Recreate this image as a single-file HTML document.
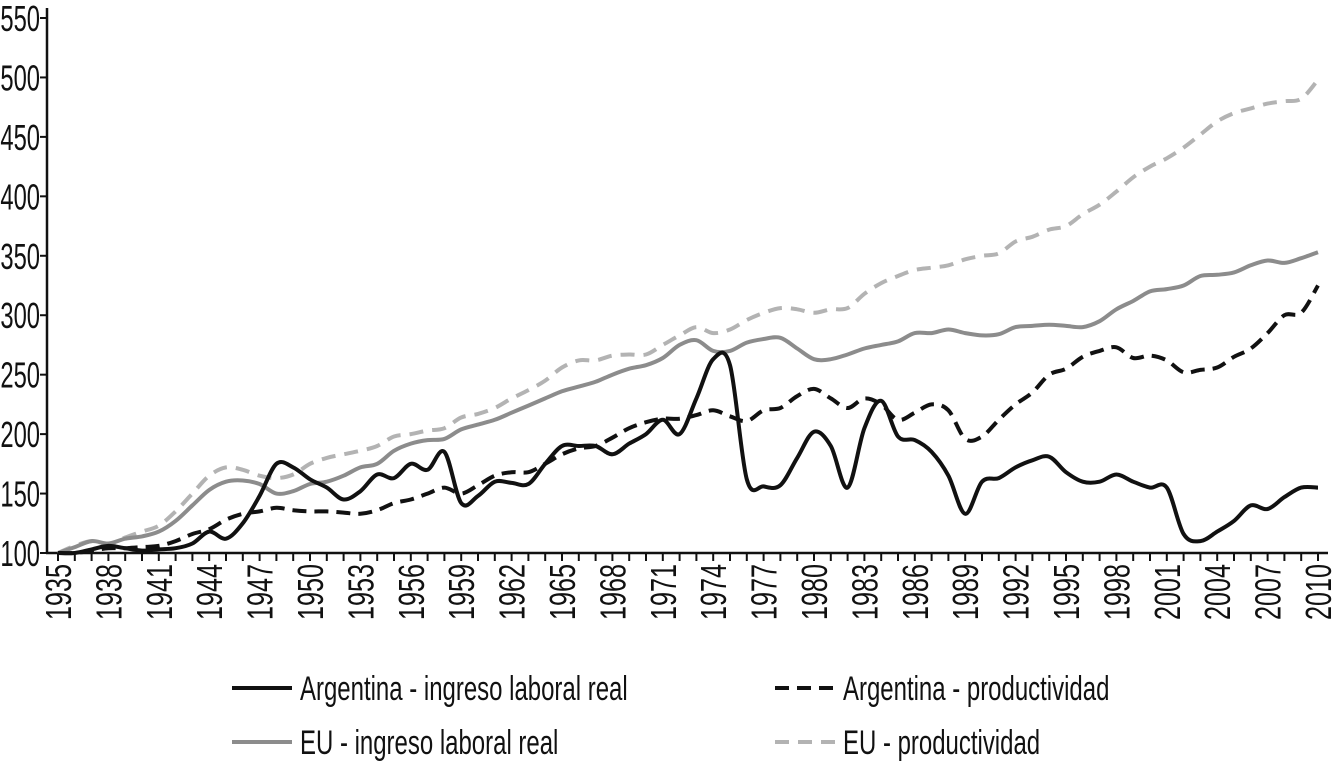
<!DOCTYPE html>
<html><head><meta charset="utf-8"><style>
html,body{margin:0;padding:0;background:#fff;}
svg{display:block;}
text{font-family:"Liberation Sans Narrow","Liberation Sans",sans-serif;fill:#111;}
</style></head><body>
<svg id="chart" width="1336" height="764" viewBox="0 0 1336 764" xmlns="http://www.w3.org/2000/svg">
<g id="axes"></g>
<g id="series"></g>
<g id="legend"></g>
</svg>
<script>
const years = [];
for (let y = 1935; y <= 2010; y++) years.push(y);
const yTicks = [100,150,200,250,300,350,400,450,500,550];
const xLabelYears = [1935,1938,1941,1944,1947,1950,1953,1956,1959,1962,1965,1968,1971,1974,1977,1980,1983,1986,1989,1992,1995,1998,2001,2004,2007,2010];
const argIngreso = [100,100,103,106,104,102,103,104,108,118,112,125,148,175,172,162,155,145,152,166,163,175,170,185,142,148,160,159,158,175,190,190,190,183,192,200,212,200,230,263,258,162,156,157,180,202,190,155,205,228,198,195,185,165,133,160,163,172,178,181,168,160,160,166,160,155,155,116,110,118,127,140,137,147,155,155];
const argProd = [100,100,102,104,104,105,106,110,116,120,128,133,135,138,136,135,135,134,133,136,142,145,150,155,150,157,165,168,168,175,183,188,190,197,205,210,213,213,216,220,215,211,220,222,232,238,230,222,230,225,212,218,225,220,196,198,212,225,235,250,255,265,270,273,264,266,262,252,254,256,265,272,285,300,302,325];
const euIngreso = [100,105,110,108,112,114,118,127,140,153,160,161,158,150,152,158,160,165,172,175,186,192,195,196,204,208,212,218,224,230,236,240,244,250,255,258,264,275,279,270,270,277,280,281,272,263,263,267,272,275,278,285,285,288,285,283,284,290,291,292,291,290,295,305,312,320,322,325,333,334,336,342,346,344,348,353];
const euProd = [100,106,110,107,113,118,123,135,150,165,172,170,165,163,166,175,180,183,186,190,198,200,203,205,214,217,222,230,237,245,256,262,262,266,267,267,275,283,290,285,288,296,302,306,305,302,305,306,318,327,333,338,340,342,347,350,352,362,366,372,375,385,393,404,416,425,432,441,452,463,470,474,478,480,482,498];

const NS = "http://www.w3.org/2000/svg";
const X0 = 58, X1 = 1318, Y0 = 553, Y1 = 18;
function xs(yr){ return X0 + (yr - 1935) * (X1 - X0) / 75; }
function ys(v){ return Y0 - (v - 100) * (Y0 - Y1) / 450; }
function mk(tag, attrs, parent){ const e = document.createElementNS(NS, tag); for (const k in attrs) e.setAttribute(k, attrs[k]); parent.appendChild(e); return e; }

const axes = document.getElementById('axes');
const yAxis = mk('line', {x1:47,y1:8,x2:47,y2:553,stroke:'#111','stroke-width':2.5}, axes);


const xAxis = mk('line', {x1:46,y1:553,x2:1328,y2:553,stroke:'#111','stroke-width':2.5}, axes);


yTicks.forEach(v => {
  const y = ys(v);
  mk('line', {x1:40,y1:y,x2:47,y2:y,stroke:'#111','stroke-width':2}, axes);
  const t = mk('text', {x:0,y:0,'font-size':36,'text-anchor':'end',transform:`translate(40 ${y+13}) scale(0.66 1)`}, axes);
  t.textContent = v;
  
  
});
years.forEach(yr => {
  const x = xs(yr);
  mk('line', {x1:x,y1:553,x2:x,y2:561,stroke:'#111','stroke-width':2}, axes);
});
xLabelYears.forEach(yr => {
  const x = xs(yr);
  const t = mk('text', {x:0,y:0,'font-size':36,'text-anchor':'end',transform:`translate(${x+13} 564) rotate(-90) scale(0.7 1)`}, axes);
  t.textContent = yr;
  
  
});

function smoothPath(vals){
  const p = vals.map((v,i) => [xs(years[i]), ys(v)]);
  let d = `M${p[0][0].toFixed(1)},${p[0][1].toFixed(1)}`;
  for (let i = 0; i < p.length - 1; i++) {
    const a = p[Math.max(0,i-1)], b = p[i], c = p[i+1], e = p[Math.min(p.length-1,i+2)];
    const c1 = [b[0] + (c[0]-a[0])/6, b[1] + (c[1]-a[1])/6];
    const c2 = [c[0] - (e[0]-b[0])/6, c[1] - (e[1]-b[1])/6];
    d += ` C${c1[0].toFixed(1)},${c1[1].toFixed(1)} ${c2[0].toFixed(1)},${c2[1].toFixed(1)} ${c[0].toFixed(1)},${c[1].toFixed(1)}`;
  }
  return d;
}
const series = document.getElementById('series');
const styles = [
  {vals: euProd, stroke:'#b3b3b3', dash:'14 9', name:'series-eu-productividad'},
  {vals: euIngreso, stroke:'#8c8c8c', dash:'', name:'series-eu-ingreso'},
  {vals: argProd, stroke:'#111', dash:'14 8', name:'series-argentina-productividad'},
  {vals: argIngreso, stroke:'#111', dash:'', name:'series-argentina-ingreso'}
];
styles.forEach(s => {
  const attrs = {d: smoothPath(s.vals), fill:'none', stroke:s.stroke, 'stroke-width':4, 'stroke-linejoin':'round'};
  if (s.dash) attrs['stroke-dasharray'] = s.dash;
  const path = mk('path', attrs, series);
  
  
});

const legend = document.getElementById('legend');
const legendItems = [
  {x:232, y:688, stroke:'#111', dash:'', label:'Argentina - ingreso laboral real', name:'legend-argentina-ingreso'},
  {x:775, y:688, stroke:'#111', dash:'14 8', label:'Argentina - productividad', name:'legend-argentina-productividad'},
  {x:232, y:742, stroke:'#8c8c8c', dash:'', label:'EU - ingreso laboral real', name:'legend-eu-ingreso'},
  {x:775, y:742, stroke:'#b3b3b3', dash:'14 9', label:'EU - productividad', name:'legend-eu-productividad'}
];
legendItems.forEach(it => {
  const g = mk('g', {}, legend);
  
  
  const la = {x1:it.x, y1:it.y, x2:it.x+60, y2:it.y, stroke:it.stroke, 'stroke-width':4};
  if (it.dash) la['stroke-dasharray'] = it.dash;
  mk('line', la, g);
  const t = mk('text', {x:0,y:0,'font-size':34,transform:`translate(${it.x+68} ${it.y+12}) scale(0.705 1)`}, g);
  t.textContent = it.label;
});
</script>
</body></html>
